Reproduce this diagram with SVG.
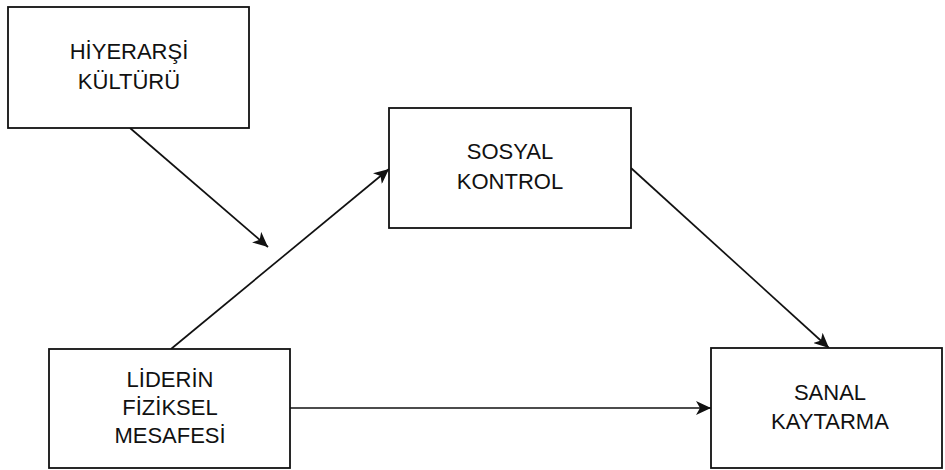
<svg xmlns="http://www.w3.org/2000/svg" width="945" height="470" viewBox="0 0 945 470">
  <defs>
    <style>
      .box { fill: #ffffff; stroke: #111111; stroke-width: 1.8; }
      .lbl { font-family: "Liberation Sans", Arial, sans-serif; font-size: 22px; fill: #111111; text-anchor: middle; }
      .edge { stroke: #111111; stroke-width: 1.7; fill: none; marker-end: url(#arrow); }
    </style>
    <marker id="arrow" markerUnits="userSpaceOnUse" markerWidth="16" markerHeight="14" refX="15" refY="7" orient="auto">
      <path d="M0,0 L15,7 L0,14 L4,7 Z" fill="#111111"/>
    </marker>
  </defs>
  <rect width="945" height="470" fill="#ffffff"/>

  <g id="connectors">
    <line class="edge" x1="130" y1="128" x2="268" y2="247"/>
    <line class="edge" x1="171" y1="349" x2="389" y2="169"/>
    <line class="edge" x1="631" y1="168" x2="829" y2="348"/>
    <line class="edge" x1="290" y1="408" x2="711" y2="408"/>
  </g>

  <g id="hiyerarsi">
    <rect class="box" x="8" y="7" width="241" height="121"/>
    <text class="lbl" x="129" y="59">HİYERARŞİ</text>
    <text class="lbl" x="129" y="89">KÜLTÜRÜ</text>
  </g>

  <g id="sosyal">
    <rect class="box" x="389" y="108" width="242" height="120"/>
    <text class="lbl" x="510" y="159">SOSYAL</text>
    <text class="lbl" x="510" y="189">KONTROL</text>
  </g>

  <g id="liderin">
    <rect class="box" x="49" y="349" width="241" height="119"/>
    <text class="lbl" x="170" y="387">LİDERİN</text>
    <text class="lbl" x="170" y="415">FİZİKSEL</text>
    <text class="lbl" x="170" y="443">MESAFESİ</text>
  </g>

  <g id="sanal">
    <rect class="box" x="711" y="348" width="231" height="120"/>
    <text class="lbl" x="830" y="400">SANAL</text>
    <text class="lbl" x="830" y="429">KAYTARMA</text>
  </g>
</svg>
